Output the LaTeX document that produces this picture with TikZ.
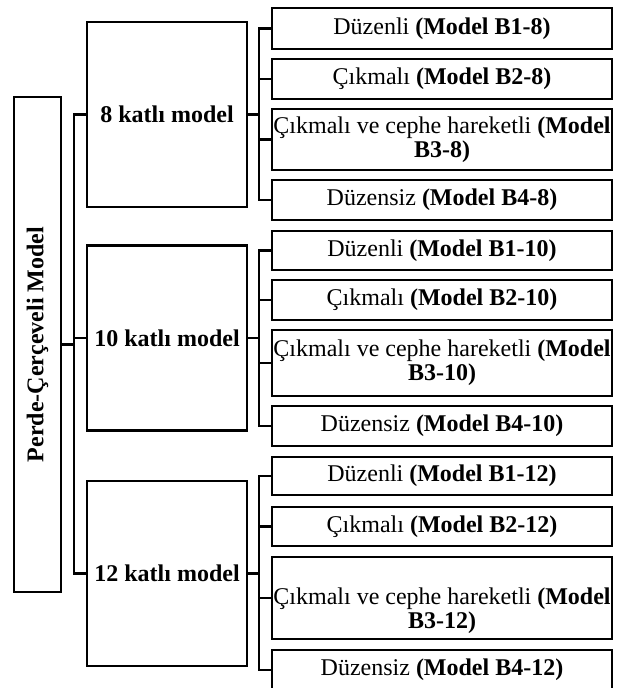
\documentclass[tikz,border=0pt]{standalone}
\usepackage{fontspec}
\usepackage{graphicx}
\setmainfont{Liberation Serif}
\usetikzlibrary{positioning}

\begin{document}
\begin{tikzpicture}[
  x=0.5pt,y=-0.5pt,
  font=\fontsize{12}{12}\selectfont,
  box/.style={draw,line width=1.45pt,inner xsep=0.5pt,inner ysep=1pt,align=center},
  leaf/.style={box,minimum width=170pt},
  floor/.style={box,minimum width=80pt,minimum height=92.5pt,font=\fontsize{12}{12}\selectfont\bfseries},
  link/.style={draw,line width=1.1pt}
]
  \useasboundingbox (0,0) rectangle (622,688);
  % root
  \node[box,minimum width=23.5pt,minimum height=247.5pt,font=\fontsize{12}{12}\selectfont\bfseries] (root) at (37.5,344.5) {\rotatebox{90}{Perde-Çerçeveli Model}};
  % floor groups
  \node[floor] (f8) at (167,114.5) {8 katlı model};
  \node[floor] (f10) at (167,338) {10 katlı model};
  \node[floor] (f12) at (167,573.5) {12 katlı model};
  % 8 floors
  \node[leaf,minimum height=20.5pt] (b18) at (442,28.5) {Düzenli \textbf{(Model B1-8)}};
  \node[leaf,minimum height=20pt] (b28) at (442,79) {Çıkmalı \textbf{(Model B2-8)}};
  \node[leaf,minimum height=30.5pt] (b38) at (442,139.5) {Çıkmalı ve cephe hareketli \textbf{(Model}\\\textbf{B3-8)}};
  \node[leaf,minimum height=20pt] (b48) at (442,200) {Düzensiz \textbf{(Model B4-8)}};
  % 10 floors
  \node[leaf,minimum height=19.5pt] (b110) at (442,250.5) {Düzenli \textbf{(Model B1-10)}};
  \node[leaf,minimum height=20pt] (b210) at (442,300) {Çıkmalı \textbf{(Model B2-10)}};
  \node[leaf,minimum height=33pt] (b310) at (442,363) {Çıkmalı ve cephe hareketli \textbf{(Model}\\\textbf{B3-10)}};
  \node[leaf,minimum height=20pt] (b410) at (442,426) {Düzensiz \textbf{(Model B4-10)}};
  % 12 floors
  \node[leaf,minimum height=19pt] (b112) at (442,476) {Düzenli \textbf{(Model B1-12)}};
  \node[leaf,minimum height=19.5pt] (b212) at (442,526.5) {Çıkmalı \textbf{(Model B2-12)}};
  \node[leaf,minimum height=41pt] (b312) at (442,598) {\rule{0pt}{21pt}Çıkmalı ve cephe hareketli \textbf{(Model}\\\textbf{B3-12)}};
  \node[leaf,minimum height=20pt] (b412) at (442,670) {Düzensiz \textbf{(Model B4-12)}};
  % bus lines
  \coordinate (busA) at (74,0);
  \coordinate (busB) at (259,0);
  \path[link] (root.east) -- (root.east -| busA);
  \path[link] (f8.west) -- (f8.west -| busA) -- (f12.west -| busA) -- (f12.west);
  \path[link] (f10.west) -- (f10.west -| busA);
  \path[link] (f8.east) -- (f8.east -| busB);
  \path[link] (b18.west) -- (b18.west -| busB) -- (b48.west -| busB) -- (b48.west);
  \path[link] (b28.west) -- (b28.west -| busB);
  \path[link] (b38.west) -- (b38.west -| busB);
  \path[link] (f10.east) -- (f10.east -| busB);
  \path[link] (b110.west) -- (b110.west -| busB) -- (b410.west -| busB) -- (b410.west);
  \path[link] (b210.west) -- (b210.west -| busB);
  \path[link] (b310.west) -- (b310.west -| busB);
  \path[link] (f12.east) -- (f12.east -| busB);
  \path[link] (b112.west) -- (b112.west -| busB) -- (b412.west -| busB) -- (b412.west);
  \path[link] (b212.west) -- (b212.west -| busB);
  \path[link] (b312.west) -- (b312.west -| busB);
\end{tikzpicture}
\end{document}
